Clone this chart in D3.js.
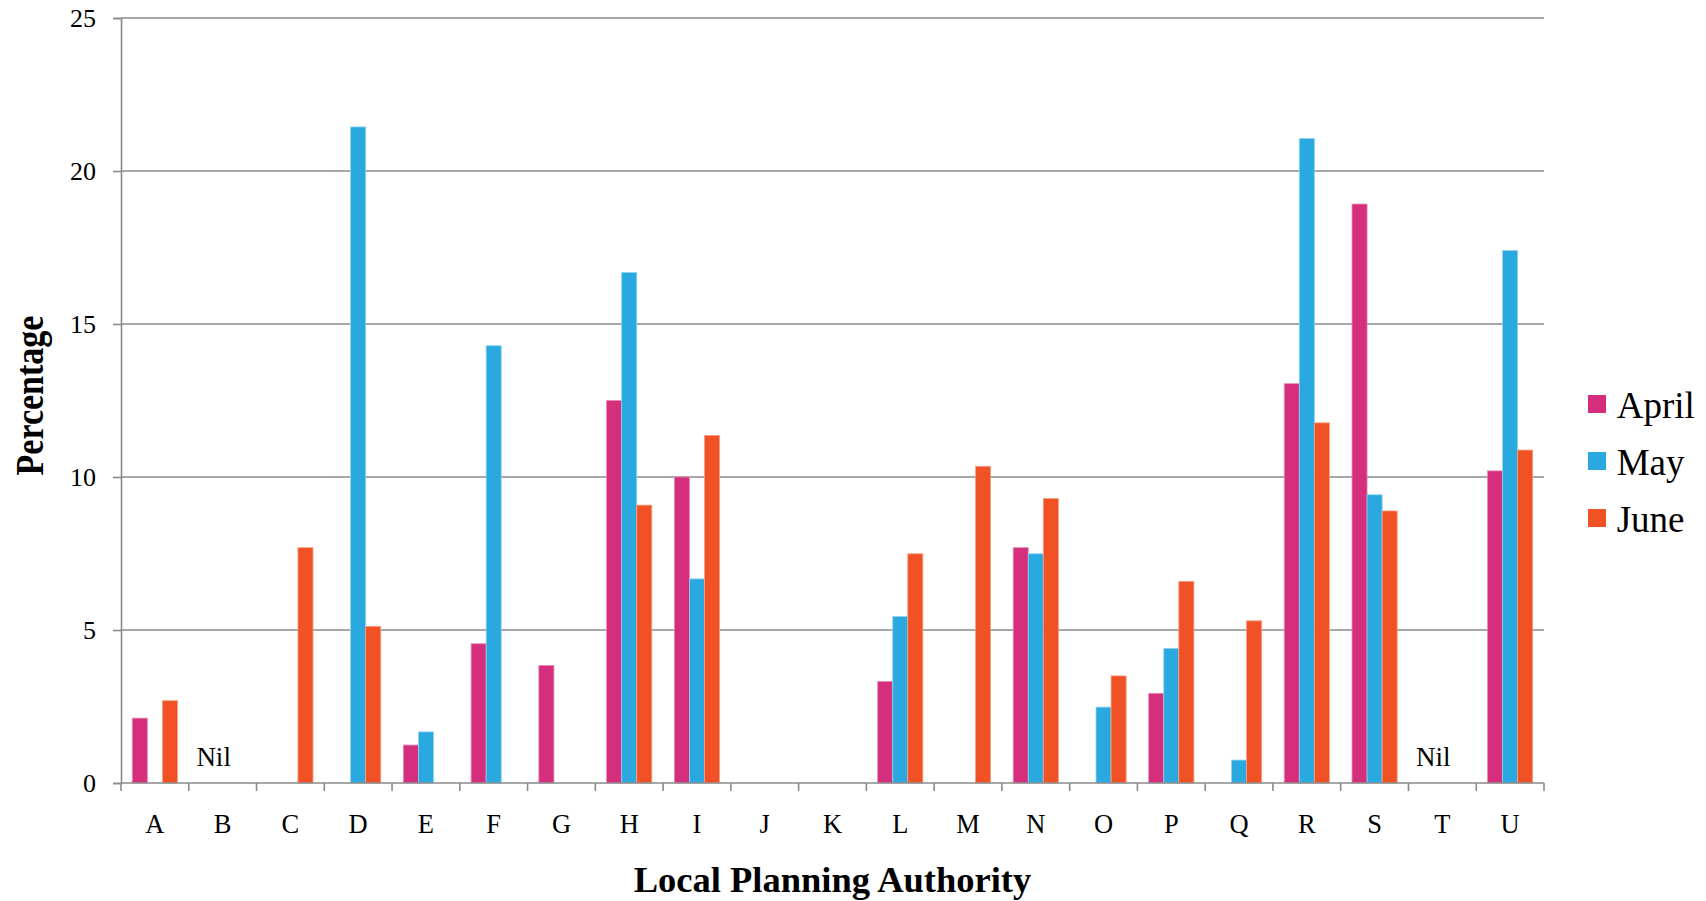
<!DOCTYPE html>
<html>
<head>
<meta charset="utf-8">
<script src="https://cdn.jsdelivr.net/npm/d3@7"></script>
<style>
  html, body { margin: 0; padding: 0; background: #fff; }
  svg { display: block; }
  text { font-family: "Liberation Serif", "Times New Roman", serif; fill: #000; }
</style>
</head>
<body>
<svg id="chart" width="1706" height="901"></svg>
<script>
// Local planning authorities and monthly percentages (null = no bar)
const authorities = ["A","B","C","D","E","F","G","H","I","J","K","L","M","N","O","P","Q","R","S","T","U"];
const seriesNames = ["April", "May", "June"];
const april = [2.12, null, null, null, 1.24, 4.55, 3.84, 12.50, 10.00, null, null, 3.32, null, 7.69, null, 2.93, null, 13.05, 18.92, null, 10.20];
const may   = [null, null, null, 21.44, 1.67, 14.29, null, 16.68, 6.67, null, null, 5.44, null, 7.49, 2.48, 4.40, 0.75, 21.06, 9.42, null, 17.40];
const june  = [2.69, null, 7.69, 5.12, null, null, null, 9.08, 11.36, null, null, 7.49, 10.35, 9.30, 3.50, 6.59, 5.30, 11.77, 8.89, null, 10.88];
const nilAuthorities = ["B", "T"];
const yTicks = [0, 5, 10, 15, 20, 25];

const colors = { April: "#d42e7d", May: "#29a9e0", June: "#f05125" };
const edge   = { April: "#e58ab4", May: "#8fd2f0", June: "#f7a080" };

const series = [
  { name: "April", values: april },
  { name: "May",   values: may },
  { name: "June",  values: june }
];

const svg = d3.select("#chart");
const plot = { left: 121, right: 1544, top: 18, bottom: 783 };

const x = d3.scaleBand().domain(authorities).range([plot.left, plot.right]).paddingInner(0).paddingOuter(0);
const y = d3.scaleLinear().domain([0, 25]).range([plot.bottom, plot.top]);

// Bars take 2/3 of each band, centred
const groupPad = x.bandwidth() / 6;
const xs = d3.scaleBand().domain(seriesNames).range([groupPad, x.bandwidth() - groupPad]).padding(0);

const gridColor = "#8a8a8a";

// Horizontal gridlines
svg.append("g")
  .selectAll("line")
  .data(yTicks.filter(d => d > 0))
  .join("line")
  .attr("x1", plot.left).attr("x2", plot.right)
  .attr("y1", d => y(d)).attr("y2", d => y(d))
  .attr("stroke", gridColor).attr("stroke-width", 1.6);

// Bars
const groups = svg.append("g")
  .selectAll("g")
  .data(series)
  .join("g")
  .attr("fill", d => colors[d.name])
  .attr("stroke", d => edge[d.name])
  .attr("stroke-width", 0.8);

groups.selectAll("rect")
  .data(s => s.values.map((v, i) => ({ key: authorities[i], value: v, name: s.name })).filter(d => d.value !== null))
  .join("rect")
  .attr("x", d => x(d.key) + xs(d.name))
  .attr("width", xs.bandwidth())
  .attr("y", d => y(d.value))
  .attr("height", d => y(0) - y(d.value));

// Y axis
const yAxis = svg.append("g")
  .attr("transform", `translate(${plot.left},0)`)
  .call(d3.axisLeft(y).tickValues(yTicks).tickSize(8).tickPadding(17).tickFormat(d3.format("d")));
yAxis.select(".domain").attr("stroke", gridColor).attr("stroke-width", 1.6);
yAxis.selectAll(".tick line").attr("stroke", gridColor).attr("stroke-width", 1.6);
yAxis.selectAll(".tick text")
  .attr("font-family", "Liberation Serif, Times New Roman, serif")
  .attr("font-size", 26).attr("fill", "#000");

// X axis with ticks at band boundaries
const xAxis = svg.append("g")
  .attr("transform", `translate(0,${plot.bottom})`);
xAxis.append("line")
  .attr("x1", plot.left).attr("x2", plot.right).attr("y1", 0).attr("y2", 0)
  .attr("stroke", gridColor).attr("stroke-width", 1.6);
const boundaries = authorities.map(a => x(a)).concat([plot.right]);
xAxis.selectAll("line.tick")
  .data(boundaries)
  .join("line")
  .attr("class", "tick")
  .attr("x1", d => d).attr("x2", d => d)
  .attr("y1", 0).attr("y2", 8)
  .attr("stroke", gridColor).attr("stroke-width", 1.6);
xAxis.selectAll("text")
  .data(authorities)
  .join("text")
  .attr("x", d => x(d) + x.bandwidth() / 2)
  .attr("y", 50)
  .attr("text-anchor", "middle")
  .attr("font-size", 26.5)
  .text(d => d);

// "Nil" notes for authorities without data
svg.append("g")
  .selectAll("text")
  .data(nilAuthorities)
  .join("text")
  .attr("x", d => x(d) + x.bandwidth() / 2 - 9)
  .attr("y", 766)
  .attr("text-anchor", "middle")
  .attr("font-size", 27)
  .text("Nil");

// Axis titles
svg.append("text")
  .attr("x", (plot.left + plot.right) / 2)
  .attr("y", 892)
  .attr("text-anchor", "middle")
  .attr("font-size", 36.5)
  .attr("font-weight", "bold")
  .text("Local Planning Authority");

svg.append("text")
  .attr("transform", `translate(42.5,${(plot.top + plot.bottom) / 2 - 5}) rotate(-90) scale(1,1.2)`)
  .attr("text-anchor", "middle")
  .attr("font-size", 34)
  .attr("font-weight", "bold")
  .text("Percentage");

// Legend
const legend = svg.append("g")
  .selectAll("g")
  .data(seriesNames)
  .join("g")
  .attr("transform", (d, i) => `translate(1588,${395 + i * 57})`);
legend.append("rect")
  .attr("width", 18).attr("height", 18)
  .attr("fill", d => colors[d]);
legend.append("text")
  .attr("x", 28.7).attr("y", 22.7)
  .attr("font-size", 37)
  .text(d => d);
</script>
</body>
</html>
